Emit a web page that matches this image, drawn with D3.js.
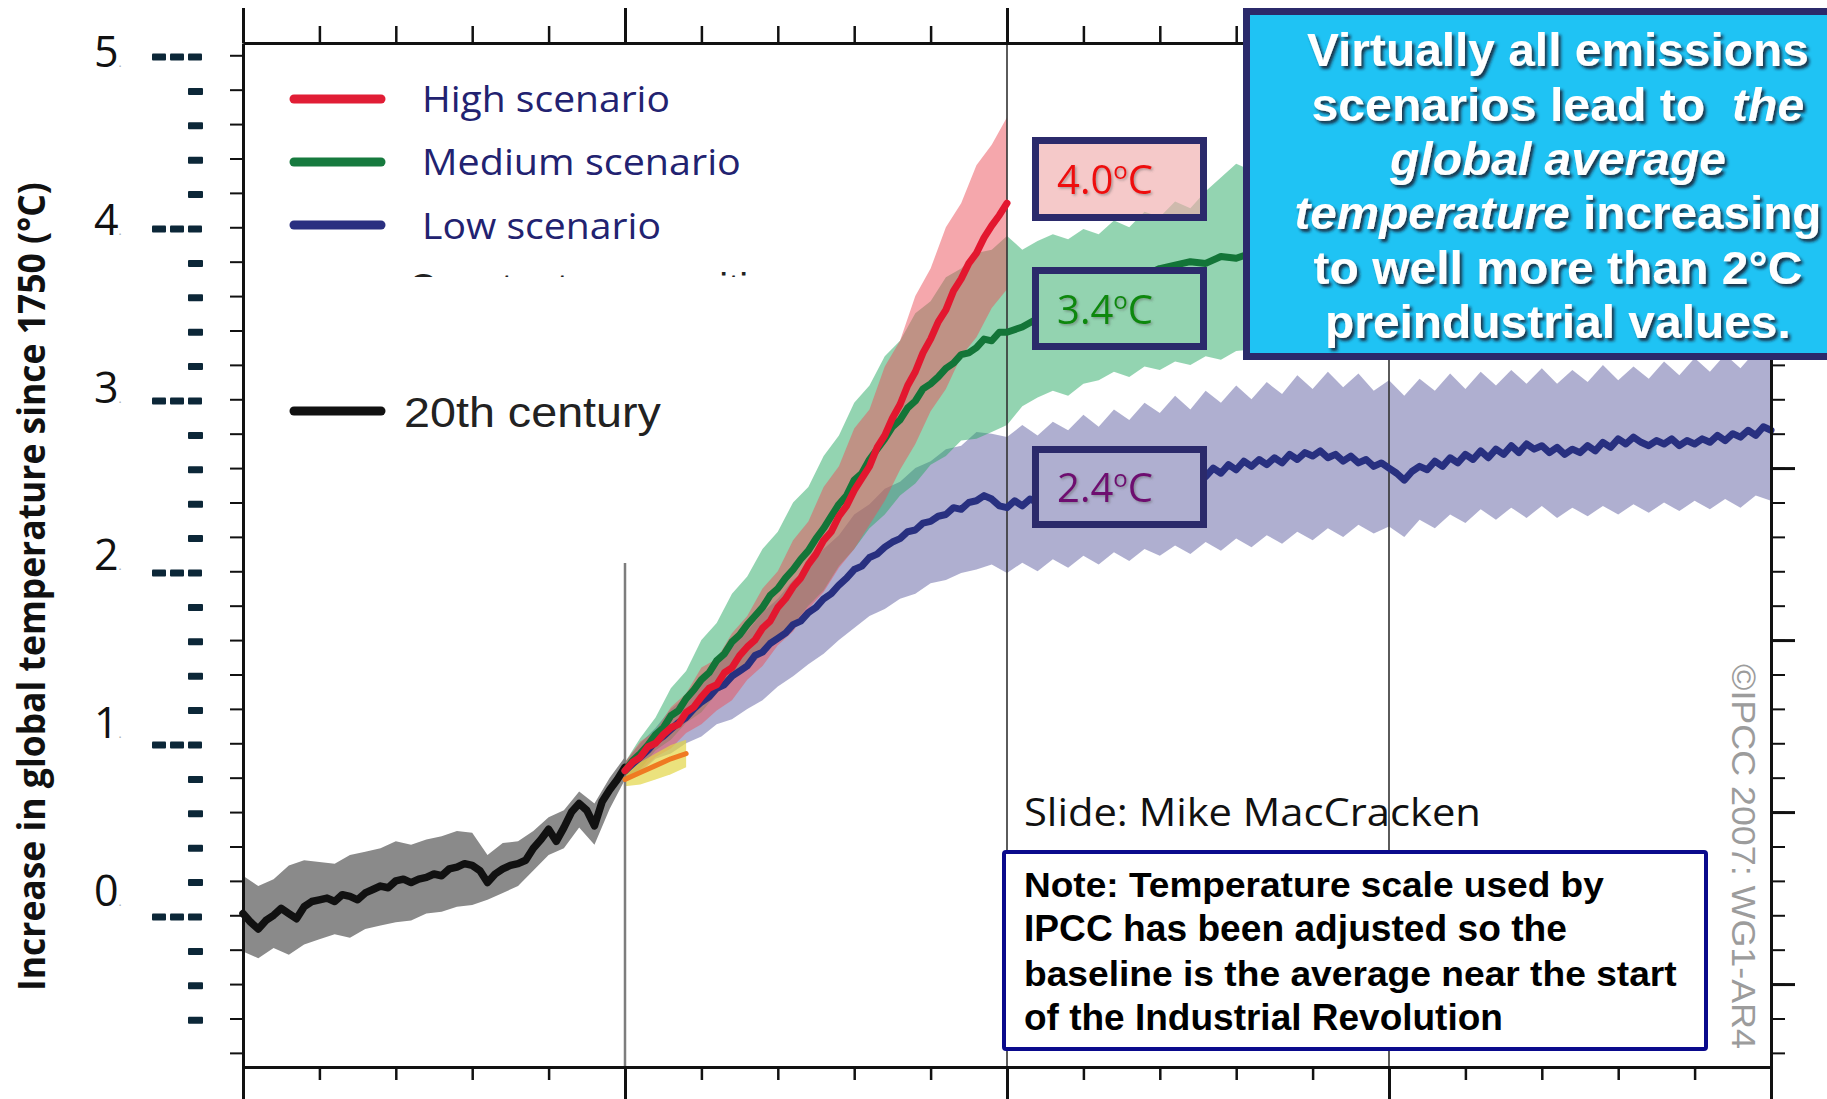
<!DOCTYPE html>
<html>
<head>
<meta charset="utf-8">
<script src="https://cdn.jsdelivr.net/npm/d3@7"></script>
<style>
  html, body { margin: 0; padding: 0; background: #ffffff; }
  svg { display: block; }
</style>
</head>
<body>
<svg id="chart" width="1827" height="1099"></svg>
<script>
// ---------------- Data ----------------
// 20th century observed/simulated record (°C above 1750)
const histYears = d3.range(1900, 2001, 2);
const histMean = [0.02,-0.03,-0.07,-0.02,0.01,0.05,0.02,-0.01,0.06,0.09,0.10,0.11,0.09,0.13,0.12,0.10,0.14,0.16,0.18,0.17,0.21,0.22,0.20,0.22,0.23,0.25,0.24,0.28,0.29,0.31,0.30,0.27,0.20,0.25,0.28,0.30,0.31,0.33,0.40,0.45,0.51,0.44,0.52,0.61,0.66,0.62,0.53,0.67,0.74,0.80,0.87];
const histBandYears = d3.range(1900, 2001, 4);
const histUpper = [0.24,0.18,0.22,0.30,0.33,0.32,0.31,0.36,0.38,0.40,0.44,0.42,0.45,0.47,0.50,0.49,0.36,0.43,0.44,0.50,0.58,0.62,0.73,0.66,0.81,0.93];
const histLower = [-0.20,-0.24,-0.18,-0.22,-0.16,-0.13,-0.10,-0.12,-0.07,-0.05,-0.03,-0.02,0.02,0.03,0.06,0.07,0.10,0.14,0.18,0.27,0.36,0.40,0.52,0.42,0.63,0.80];

// 21st century scenario means
const projYears = d3.range(2000, 2101, 2);
const highMean = [0.85,0.90,0.93,0.99,1.01,1.06,1.10,1.12,1.19,1.22,1.28,1.33,1.35,1.42,1.45,1.52,1.57,1.61,1.68,1.72,1.80,1.85,1.92,1.97,2.05,2.11,2.19,2.24,2.33,2.39,2.48,2.55,2.62,2.73,2.80,2.90,2.98,3.09,3.17,3.28,3.36,3.46,3.53,3.64,3.71,3.80,3.86,3.95,4.02,4.08,4.15];
const mediumMean = [0.85,0.91,0.95,1.00,1.06,1.10,1.17,1.20,1.27,1.32,1.38,1.42,1.49,1.53,1.60,1.64,1.70,1.75,1.80,1.87,1.91,1.97,2.02,2.08,2.13,2.20,2.26,2.33,2.40,2.45,2.54,2.58,2.66,2.72,2.78,2.85,2.89,2.96,3.00,3.07,3.10,3.14,3.19,3.22,3.27,3.28,3.31,3.36,3.35,3.40,3.40];
const lowMean = [0.85,0.89,0.93,0.97,1.02,1.05,1.09,1.13,1.16,1.21,1.25,1.28,1.33,1.35,1.40,1.43,1.46,1.52,1.54,1.59,1.62,1.65,1.70,1.72,1.77,1.80,1.85,1.88,1.93,1.97,2.02,2.04,2.09,2.11,2.15,2.18,2.20,2.24,2.25,2.29,2.30,2.33,2.34,2.38,2.37,2.41,2.42,2.45,2.43,2.39,2.38];

// 21st century uncertainty ranges
const projBandYears = d3.range(2000, 2101, 4);
const highUpper = [0.90,1.02,1.08,1.22,1.30,1.45,1.50,1.65,1.75,1.91,2.01,2.19,2.30,2.50,2.62,2.84,2.95,3.20,3.35,3.61,3.77,4.01,4.15,4.37,4.49,4.65];
const highLower = [0.80,0.85,0.93,0.98,1.07,1.12,1.20,1.26,1.38,1.46,1.58,1.66,1.79,1.89,2.03,2.14,2.28,2.42,2.60,2.75,2.94,3.07,3.26,3.37,3.54,3.65];
const mediumUpper = [0.90,1.04,1.16,1.33,1.43,1.61,1.71,1.88,1.98,2.14,2.24,2.41,2.50,2.68,2.80,2.99,3.09,3.26,3.35,3.51,3.58,3.72,3.77,3.86,3.88,3.96];
const mediumLower = [0.80,0.86,0.97,1.03,1.13,1.19,1.30,1.37,1.46,1.52,1.63,1.70,1.81,1.90,2.04,2.14,2.26,2.34,2.45,2.52,2.63,2.68,2.77,2.78,2.82,2.86];
const lowUpper = [0.90,1.01,1.10,1.21,1.28,1.41,1.49,1.60,1.66,1.77,1.85,1.96,2.03,2.14,2.22,2.34,2.40,2.49,2.53,2.61,2.65,2.72,2.74,2.82,2.81,2.80];
const lowLower = [0.80,0.84,0.92,0.95,1.01,1.05,1.12,1.15,1.21,1.26,1.34,1.40,1.47,1.53,1.61,1.68,1.75,1.79,1.85,1.88,1.94,1.96,2.00,2.02,2.05,2.00];

// Constant-composition commitment near 2000
const commitYears = [2000, 2004, 2008, 2012, 2016];
const commitMean = [0.80, 0.84, 0.88, 0.92, 0.95];
const commitUpper = [0.84, 0.90, 0.95, 1.00, 1.03];
const commitLower = [0.76, 0.77, 0.80, 0.83, 0.87];

// Extension after 2100 (stabilised forcing)
const extYears = d3.range(2100, 2301, 2);
const lowExt = [2.38,2.42,2.39,2.43,2.41,2.44,2.42,2.46,2.44,2.48,
  2.46,2.50,2.47,2.52,2.49,2.53,2.50,2.55,2.52,2.57,
  2.54,2.51,2.55,2.59,2.55,2.58,2.56,2.61,2.58,2.63,
  2.60,2.65,2.62,2.66,2.63,2.67,2.64,2.69,2.66,2.70,
  2.68,2.71,2.67,2.69,2.65,2.68,2.64,2.66,2.62,2.64,
  2.61,2.58,2.54,2.59,2.62,2.60,2.65,2.62,2.67,2.64,
  2.69,2.66,2.71,2.67,2.72,2.69,2.74,2.70,2.75,2.72,
  2.74,2.70,2.73,2.69,2.72,2.70,2.74,2.71,2.76,2.73,
  2.78,2.75,2.79,2.76,2.74,2.77,2.75,2.78,2.74,2.77,
  2.75,2.78,2.76,2.80,2.77,2.81,2.79,2.83,2.80,2.85,2.83];
const extCoarseYears = d3.range(2100, 2301, 4);
const mediumExt = [3.40,3.43,3.48,3.52,3.57,3.60,3.65,3.68,3.72,3.73,3.77,3.79,3.81,3.80,3.84,3.83,3.86,3.88,3.90,3.92,3.93,3.95,3.96,3.98,3.99,3.98,3.97,4.00,4.02,4.03,4.05,4.06,4.07,4.09,4.10,4.11,4.12,4.14,4.15,4.15,4.17,4.18,4.19,4.20,4.21,4.22,4.22,4.24,4.25,4.26,4.27];
const lowExtUpper = [2.79,2.86,2.80,2.88,2.83,2.92,2.85,2.95,2.89,2.99,2.93,3.03,2.95,3.06,2.99,3.09,3.01,3.11,3.04,3.15,3.07,3.17,3.08,3.16,3.06,3.12,3.03,3.13,3.06,3.16,3.07,3.17,3.09,3.18,3.10,3.19,3.10,3.18,3.11,3.21,3.12,3.20,3.13,3.23,3.15,3.25,3.17,3.27,3.19,3.29,3.25];
const lowExtLower = [2.00,2.06,2.01,2.08,2.03,2.10,2.05,2.12,2.07,2.14,2.10,2.16,2.11,2.18,2.13,2.20,2.15,2.22,2.17,2.24,2.19,2.26,2.21,2.28,2.23,2.27,2.21,2.31,2.26,2.34,2.29,2.37,2.31,2.38,2.32,2.39,2.32,2.38,2.33,2.39,2.34,2.40,2.35,2.41,2.36,2.42,2.37,2.43,2.38,2.45,2.42];
const mediumExtUpper = [3.96,3.88,3.93,3.97,3.94,4.00,3.97,4.05,4.01,4.10,4.07,4.16,4.12,4.22,4.30,4.38,4.34,4.40,4.42,4.45,4.46,4.48,4.50,4.51,4.53,4.52,4.54,4.56,4.57,4.59,4.60,4.61,4.63,4.64,4.65,4.66,4.67,4.68,4.70,4.70,4.72,4.73,4.74,4.75,4.76,4.77,4.77,4.79,4.80,4.81,4.82];
const mediumExtLower = [2.86,2.97,3.02,3.06,3.03,3.10,3.12,3.17,3.14,3.20,3.18,3.23,3.21,3.26,3.24,3.29,3.30,3.34,3.37,3.39,3.40,3.42,3.43,3.45,3.46,3.46,3.47,3.49,3.50,3.52,3.53,3.54,3.55,3.57,3.58,3.59,3.60,3.61,3.62,3.63,3.64,3.65,3.66,3.67,3.68,3.69,3.69,3.70,3.71,3.72,3.73];

// Axis annotations
const scaleLabels = [0, 1, 2, 3, 4, 5];
const scaleDashes = [-0.6,-0.4,-0.2,0.2,0.4,0.6,0.8,1.2,1.4,1.6,1.8,2.2,2.4,2.6,2.8,3.2,3.4,3.6,3.8,4.2,4.4,4.6,4.8];
const figureTicks = [-1.4,-1.2,-1.0,-0.8,-0.6,-0.4,-0.2,0.0,0.2,0.4,0.6,0.8,1.0,1.2,1.4,1.6,1.8,2.0,2.2,2.4,2.6,2.8,3.0,3.2,3.4,3.6,3.8,4.0,4.2,4.4];
const figureMajorTicks = [-1, 0, 1, 2, 3, 4];
const figureBaselineOffset = 0.61;   // 1980–1999 reference period relative to 1750
const minorYears = d3.range(1900, 2301, 20);
const centuryYears = [1900, 2000, 2100, 2200, 2300];

const endLabels = [
  { value: 4.0, color: "#ee1111", fill: "rgba(240,170,170,0.64)", box: [137, 221] },
  { value: 3.4, color: "#118811", fill: "#93d3b0", box: [267, 350] },
  { value: 2.4, color: "#6e0f70", fill: "#afafd0", box: [446, 528] }
];

const legendItems = [
  { label: "High scenario",   color: "#e11d35", width: 248 },
  { label: "Medium scenario", color: "#167a3e", width: 319 },
  { label: "Low scenario",    color: "#2a2f80", width: 239 }
];

const calloutLines = [
  [{ t: "Virtually all emissions" }],
  [{ t: "scenarios lead to  " }, { t: "the", i: true }],
  [{ t: "global average", i: true }],
  [{ t: "temperature", i: true }, { t: " increasing" }],
  [{ t: "to well more than 2°C" }],
  [{ t: "preindustrial values." }]
];
const calloutWidths = [502, 493, 336, 527, 489, 466];

const noteLines = [
  "Note: Temperature scale used by",
  "IPCC has been adjusted so the",
  "baseline is the average near the start",
  "of the Industrial Revolution"
];
const noteWidths = [580, 543, 653, 479];

// ---------------- Layout ----------------
const svg = d3.select("#chart");
const W = 1827, H = 1099;
const frameTop = 43, frameBottom = 1067;
const x = d3.scaleLinear().domain([1900, 2300]).range([243, 1771]);
const y = d3.scaleLinear().domain([0, 5]).range([917, 57]);
const yLabel = d3.scaleLinear().domain([0, 5]).range([906, 67]);
const yFig = d3.scaleLinear()
  .domain([y.invert(frameBottom) - figureBaselineOffset, y.invert(frameTop) - figureBaselineOffset])
  .range([frameBottom, frameTop]);

svg.append("rect").attr("width", W).attr("height", H).attr("fill", "#ffffff");

const defs = svg.append("defs");
defs.append("filter").attr("id", "calloutShadow")
  .attr("x", "-5%").attr("y", "-30%").attr("width", "115%").attr("height", "160%")
  .append("feDropShadow").attr("dx", 2.5).attr("dy", 3).attr("stdDeviation", 1.4)
  .attr("flood-color", "#15152a").attr("flood-opacity", 0.85);
defs.append("filter").attr("id", "labelShadow")
  .attr("x", "-10%").attr("y", "-30%").attr("width", "130%").attr("height", "160%")
  .append("feDropShadow").attr("dx", 1.5).attr("dy", 1.5).attr("stdDeviation", 1)
  .attr("flood-color", "#555").attr("flood-opacity", 0.45);
defs.append("clipPath").attr("id", "legendCut")
  .append("rect").attr("x", 380).attr("y", 255).attr("width", 460).attr("height", 22);

const zip = (xs, ys) => xs.map((t, i) => ({ t, v: ys[i] }));
const zipBand = (xs, lo, hi) => xs.map((t, i) => ({ t, lo: lo[i], hi: hi[i] }));

const area = d3.area().x(d => x(d.t)).y0(d => y(d.lo)).y1(d => y(d.hi));
const line = d3.line().x(d => x(d.t)).y(d => y(d.v));

// ---------------- Uncertainty bands ----------------
const plot = svg.append("g");
plot.append("path")
  .datum(zipBand(histBandYears, histLower, histUpper))
  .attr("d", area).attr("fill", "#8a8a8a");

plot.append("path")
  .datum(zipBand(projBandYears.slice(0, -1).concat(extCoarseYears),
                 lowLower.slice(0, -1).concat(lowExtLower),
                 lowUpper.slice(0, -1).concat(lowExtUpper)))
  .attr("d", area).attr("fill", "rgba(110,110,170,0.55)");

plot.append("path")
  .datum(zipBand(projBandYears.slice(0, -1).concat(extCoarseYears),
                 mediumLower.slice(0, -1).concat(mediumExtLower),
                 mediumUpper.slice(0, -1).concat(mediumExtUpper)))
  .attr("d", area).attr("fill", "rgba(40,170,100,0.5)");

plot.append("path")
  .datum(zipBand(projBandYears, highLower, highUpper))
  .attr("d", area).attr("fill", "rgba(235,80,90,0.5)");

plot.append("path")
  .datum(zipBand(commitYears, commitLower, commitUpper))
  .attr("d", area).attr("fill", "rgba(226,214,70,0.7)");

// ---------------- Period dividers ----------------
plot.append("line")
  .attr("x1", x(2000)).attr("x2", x(2000)).attr("y1", 563).attr("y2", frameBottom)
  .attr("stroke", "#7d7d7d").attr("stroke-width", 2.5);
[2100, 2200].forEach(yr => {
  plot.append("line")
    .attr("x1", x(yr)).attr("x2", x(yr)).attr("y1", frameTop).attr("y2", frameBottom)
    .attr("stroke", "#333").attr("stroke-width", 1.6);
});

// ---------------- Mean curves ----------------
const curves = [
  { data: zip(commitYears, commitMean), color: "#ef7a22", w: 5 },
  { data: zip(histYears, histMean), color: "#111111", w: 7.5 },
  { data: zip(projYears.slice(0, -1).concat(extYears), lowMean.slice(0, -1).concat(lowExt)), color: "#283080", w: 7 },
  { data: zip(projYears.slice(0, -1).concat(extCoarseYears), mediumMean.slice(0, -1).concat(mediumExt)), color: "#137538", w: 7 },
  { data: zip(projYears, highMean), color: "#e3172f", w: 7 }
];
curves.forEach(c => {
  plot.append("path").datum(c.data).attr("d", line)
    .attr("fill", "none").attr("stroke", c.color).attr("stroke-width", c.w)
    .attr("stroke-linejoin", "round").attr("stroke-linecap", "round");
});

// ---------------- Figure frame (axes) ----------------
function styleAxis(g, width) {
  g.selectAll("path.domain").attr("stroke", "#111").attr("stroke-width", 3);
  g.selectAll(".tick line").attr("stroke", "#111").attr("stroke-width", width);
  g.selectAll(".tick text").remove();
}
svg.append("g").attr("transform", `translate(0,${frameTop})`)
  .call(d3.axisTop(x).tickValues(minorYears).tickSize(17).tickSizeOuter(0).tickFormat(""))
  .call(g => styleAxis(g, 2.5));
svg.append("g").attr("transform", `translate(0,${frameTop})`)
  .call(d3.axisTop(x).tickValues(centuryYears).tickSize(35).tickSizeOuter(0).tickFormat(""))
  .call(g => { styleAxis(g, 3); g.select("path.domain").remove(); });
svg.append("g").attr("transform", `translate(0,${frameBottom})`)
  .call(d3.axisBottom(x).tickValues(minorYears).tickSize(13).tickSizeOuter(0).tickFormat(""))
  .call(g => styleAxis(g, 2.5));
svg.append("g").attr("transform", `translate(0,${frameBottom})`)
  .call(d3.axisBottom(x).tickValues(centuryYears).tickSize(34).tickSizeOuter(0).tickFormat(""))
  .call(g => { styleAxis(g, 3); g.select("path.domain").remove(); });
svg.append("g").attr("transform", `translate(${x(1900)},0)`)
  .call(d3.axisLeft(yFig).tickValues(figureTicks).tickSize(13).tickSizeOuter(0).tickFormat(""))
  .call(g => styleAxis(g, 2));
svg.append("g").attr("transform", `translate(${x(2300)},0)`)
  .call(d3.axisRight(yFig).tickValues(figureTicks).tickSize(14).tickSizeOuter(0).tickFormat(""))
  .call(g => styleAxis(g, 2));
svg.append("g").attr("transform", `translate(${x(2300)},0)`)
  .call(d3.axisRight(yFig).tickValues(figureMajorTicks).tickSize(24).tickSizeOuter(0).tickFormat(""))
  .call(g => { styleAxis(g, 3); g.select("path.domain").remove(); });

// ---------------- Helpers for fitted text ----------------
function fitted(parent, { x0, y0, width, anchor = "start", rotate = 0, build }) {
  const g = parent.append("g");
  const t = g.append("text").attr("x", 0).attr("y", 0);
  build(t);
  const bw = t.node().getComputedTextLength();
  const sx = width / bw;
  let shift = 0;
  if (anchor === "middle") shift = -width / 2;
  if (anchor === "end") shift = -width;
  g.attr("transform", `translate(${x0},${y0}) rotate(${rotate}) translate(${shift},0) scale(${sx},1)`);
  return t;
}

// ---------------- Rescaled temperature scale (since 1750) ----------------
const scaleG = svg.append("g");
scaleLabels.forEach(v => {
  [152, 170, 188].forEach(dx => {
    scaleG.append("rect").attr("x", dx).attr("y", y(v) - 3.5)
      .attr("width", 14).attr("height", 7).attr("rx", 1).attr("fill", "#0c2738");
  });
  const t = scaleG.append("text").attr("x", 94).attr("y", yLabel(v))
    .attr("font-family", "Open Sans, sans-serif").attr("font-size", 43).attr("fill", "#111")
    .text(String(v));
  t.append("tspan").attr("font-size", 12).attr("fill", "#aaa").text(".");
});
scaleDashes.forEach(v => {
  scaleG.append("rect").attr("x", 188).attr("y", y(v) - 3.5)
    .attr("width", 15).attr("height", 7).attr("rx", 1).attr("fill", "#0c2738");
});

fitted(svg, { x0: 45, y0: 991, width: 809, rotate: -90, build: t => t
  .attr("font-family", "Open Sans, sans-serif").attr("font-weight", 700)
  .attr("font-size", 37).attr("fill", "#111")
  .text("Increase in global temperature since 1750 (°C)") });

// ---------------- Legend ----------------
const legend = svg.append("g");
const legendRows = [99, 162, 225];
const legendBase = [112, 175, 239];
legendItems.forEach((d, i) => {
  legend.append("line").attr("x1", 294).attr("x2", 381)
    .attr("y1", legendRows[i]).attr("y2", legendRows[i])
    .attr("stroke", d.color).attr("stroke-width", 9).attr("stroke-linecap", "round");
  fitted(legend, { x0: 422, y0: legendBase[i], width: d.width, build: t => t
    .attr("font-family", "Open Sans, sans-serif").attr("font-size", 37)
    .attr("fill", "#222270").text(d.label) });
});
legend.append("g").attr("clip-path", "url(#legendCut)")
  .append("text").attr("x", 408).attr("y", 302)
  .attr("font-family", "Liberation Sans, Arial, sans-serif").attr("font-size", 40).attr("fill", "#222")
  .text("Constant composition commitment");
legend.append("line").attr("x1", 294).attr("x2", 381).attr("y1", 411).attr("y2", 411)
  .attr("stroke", "#111").attr("stroke-width", 9).attr("stroke-linecap", "round");
fitted(legend, { x0: 404, y0: 427, width: 257, build: t => t
  .attr("font-family", "Liberation Sans, Arial, sans-serif").attr("font-size", 43)
  .attr("fill", "#222").text("20th century") });

// ---------------- End-of-century value boxes ----------------
endLabels.forEach(d => {
  const [top, bottom] = d.box;
  svg.append("rect").attr("x", 1035.5).attr("y", top + 3.5)
    .attr("width", 168).attr("height", bottom - top - 7)
    .attr("fill", d.fill).attr("stroke", "#2b2a6b").attr("stroke-width", 7);
  fitted(svg, { x0: 1057, y0: (top + bottom) / 2 + 15, width: 96, build: t => {
    t.attr("font-family", "Open Sans, sans-serif").attr("font-size", 40)
      .attr("fill", d.color).attr("filter", "url(#labelShadow)");
    t.append("tspan").text(d.value.toFixed(1));
    t.append("tspan").attr("font-size", 24).attr("dy", -15).text("o");
    t.append("tspan").attr("dy", 15).text("C");
  }});
});

// ---------------- Callout box ----------------
svg.append("rect").attr("x", 1246.5).attr("y", 11.5).attr("width", 620).attr("height", 345)
  .attr("fill", "#1fc3f4").attr("stroke", "#2b2a6b").attr("stroke-width", 7);
const calloutBase = [66, 120.5, 175, 229, 283.5, 338];
calloutLines.forEach((parts, i) => {
  fitted(svg, { x0: 1558, y0: calloutBase[i], width: calloutWidths[i], anchor: "middle", build: t => {
    t.attr("font-family", "Liberation Sans, Arial, sans-serif").attr("font-weight", 700)
      .attr("font-size", 47).attr("fill", "#ffffff").attr("filter", "url(#calloutShadow)")
      .attr("xml:space", "preserve");
    parts.forEach(p => t.append("tspan").attr("font-style", p.i ? "italic" : "normal").text(p.t));
  }});
});

// ---------------- Credits and note ----------------
fitted(svg, { x0: 1024, y0: 826, width: 457, build: t => t
  .attr("font-family", "Open Sans, sans-serif").attr("font-size", 38)
  .attr("fill", "#111").text("Slide: Mike MacCracken") });

svg.append("rect").attr("x", 1004).attr("y", 852).attr("width", 702).attr("height", 197)
  .attr("fill", "#ffffff").attr("stroke", "#0a0a8c").attr("stroke-width", 4).attr("rx", 2);
const noteBase = [897, 941, 986, 1030];
noteLines.forEach((s, i) => {
  fitted(svg, { x0: 1024, y0: noteBase[i], width: noteWidths[i], build: t => t
    .attr("font-family", "Liberation Sans, Arial, sans-serif").attr("font-weight", 700)
    .attr("font-size", 36).attr("fill", "#000").text(s) });
});

fitted(svg, { x0: 1732, y0: 664, width: 385, rotate: 90, build: t => t
  .attr("font-family", "Liberation Sans, Arial, sans-serif").attr("font-size", 34)
  .attr("fill", "#9c9c9c").text("©IPCC 2007: WG1-AR4") });
</script>
</body>
</html>
